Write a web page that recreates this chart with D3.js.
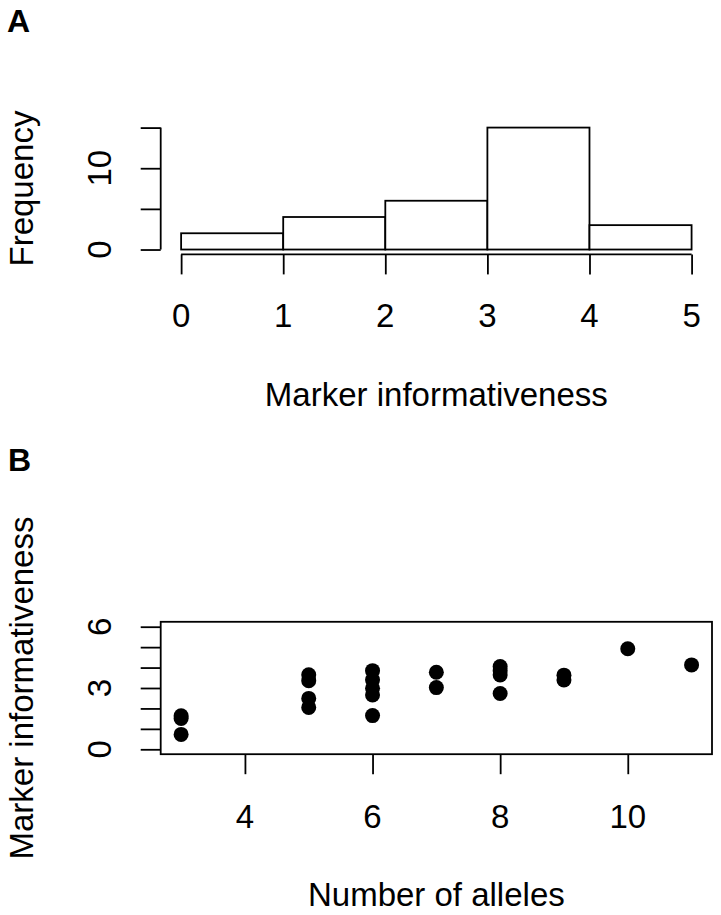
<!DOCTYPE html>
<html>
<head>
<meta charset="utf-8">
<script src="https://cdn.jsdelivr.net/npm/d3@7"></script>
<style>
  html, body { margin: 0; padding: 0; background: #fff; }
  svg text { font-family: "Liberation Sans", Arial, Helvetica, sans-serif; fill: #000; }
</style>
</head>
<body>
<svg id="chart" width="721" height="915"></svg>
<script>
// ---------- Data ----------
// Panel A: histogram of marker informativeness
const binEdges = [0, 1, 2, 3, 4, 5];
const binCounts = [2, 4, 6, 15, 3];
const histXTicks = [0, 1, 2, 3, 4, 5];
const histYTicks = [0, 5, 10, 15];
const histYLabels = [0, 10];

// Panel B: number of alleles vs marker informativeness
const alleles = [3, 3, 3, 5, 5, 5, 5, 6, 6, 6, 6, 6, 7, 7, 8, 8, 8, 8, 9, 9, 10, 11];
const informativeness = [0.73, 1.51, 1.64, 3.65, 3.36, 2.49, 2.05, 3.85, 3.40, 2.99, 2.66, 1.65,
                         3.77, 3.02, 4.05, 3.85, 3.64, 2.73, 3.63, 3.39, 4.92, 4.13];
const scatXTicks = [4, 6, 8, 10];
const scatYTicks = [0, 1, 2, 3, 4, 5, 6];
const scatYLabels = [0, 3, 6];

// ---------- Layout ----------
const svg = d3.select("#chart");
const left = 160.7, right = 712;
const FS = 33, SW = 1.8, TICK = 20;

function ext(lo, hi) { const d = (hi - lo) * 0.04; return [lo - d, hi + d]; }

// ---- Panel A ----
const A = { top: 122.7, bottom: 254.4 };
const xA = d3.scaleLinear().domain(ext(0, 5)).range([left, right]);
const yA = d3.scaleLinear().domain(ext(0, 15)).range([A.bottom, A.top]);
const gA = svg.append("g");

const bars = binCounts.map((c, i) => ({ x0: binEdges[i], x1: binEdges[i + 1], n: c }));
gA.selectAll("rect.bar").data(bars).enter().append("rect")
  .attr("class", "bar")
  .attr("x", d => xA(d.x0)).attr("width", d => xA(d.x1) - xA(d.x0))
  .attr("y", d => yA(d.n)).attr("height", d => yA(0) - yA(d.n))
  .attr("fill", "#fff").attr("stroke", "#000").attr("stroke-width", SW);

// x axis (bottom)
const xAxisA = d3.axisBottom(xA).tickValues(histXTicks).tickSize(TICK).tickPadding(0).tickFormat("");
const gxA = gA.append("g").attr("transform", `translate(0,${A.bottom})`).call(xAxisA);
gxA.select(".domain").attr("d", `M${xA(0)},0H${xA(5)}`).attr("stroke-width", SW);
gxA.selectAll(".tick line").attr("stroke-width", SW);
gA.selectAll("text.xl").data(histXTicks).enter().append("text")
  .attr("class", "xl").attr("x", d => xA(d)).attr("y", A.bottom + 73)
  .attr("text-anchor", "middle").attr("font-size", FS).text(d => d);

// y axis (left)
const yAxisA = d3.axisLeft(yA).tickValues(histYTicks).tickSize(TICK).tickFormat("");
const gyA = gA.append("g").attr("transform", `translate(${left},0)`).call(yAxisA);
gyA.select(".domain").attr("d", `M0,${yA(0)}V${yA(15)}`).attr("stroke-width", SW);
gyA.selectAll(".tick line").attr("stroke-width", SW);
gA.selectAll("text.yl").data(histYLabels).enter().append("text")
  .attr("class", "yl")
  .attr("transform", d => `translate(${left - 50},${yA(d)}) rotate(-90)`)
  .attr("text-anchor", "middle").attr("font-size", FS).text(d => d);

gA.append("text").attr("x", (left + right) / 2).attr("y", A.bottom + 151.5)
  .attr("text-anchor", "middle").attr("font-size", FS).text("Marker informativeness");
gA.append("text")
  .attr("transform", `translate(33,${(A.top + A.bottom) / 2}) rotate(-90)`)
  .attr("text-anchor", "middle").attr("font-size", FS).text("Frequency");
gA.append("text").attr("x", 7).attr("y", 32).attr("font-size", 32).attr("font-weight", "bold").text("A");

// ---- Panel B ----
const B = { top: 621.8, bottom: 754.2 };
const xB = d3.scaleLinear().domain(ext(3, 11)).range([left, right]);
const yB = d3.scaleLinear().domain(ext(0, 6)).range([B.bottom, B.top]);
const gB = svg.append("g");

gB.append("rect").attr("x", left).attr("y", B.top)
  .attr("width", right - left).attr("height", B.bottom - B.top)
  .attr("fill", "none").attr("stroke", "#000").attr("stroke-width", SW);

gB.selectAll("circle").data(alleles.map((a, i) => ({ a, v: informativeness[i] })))
  .enter().append("circle")
  .attr("cx", d => xB(d.a)).attr("cy", d => yB(d.v)).attr("r", 7.5).attr("fill", "#000");

const xAxisB = d3.axisBottom(xB).tickValues(scatXTicks).tickSize(TICK).tickFormat("");
const gxB = gB.append("g").attr("transform", `translate(0,${B.bottom})`).call(xAxisB);
gxB.select(".domain").remove();
gxB.selectAll(".tick line").attr("stroke-width", SW);
gB.selectAll("text.xl").data(scatXTicks).enter().append("text")
  .attr("class", "xl").attr("x", d => xB(d)).attr("y", B.bottom + 73.3)
  .attr("text-anchor", "middle").attr("font-size", FS).text(d => d);

const yAxisB = d3.axisLeft(yB).tickValues(scatYTicks).tickSize(TICK).tickFormat("");
const gyB = gB.append("g").attr("transform", `translate(${left},0)`).call(yAxisB);
gyB.select(".domain").remove();
gyB.selectAll(".tick line").attr("stroke-width", SW);
gB.selectAll("text.yl").data(scatYLabels).enter().append("text")
  .attr("class", "yl")
  .attr("transform", d => `translate(${left - 50},${yB(d)}) rotate(-90)`)
  .attr("text-anchor", "middle").attr("font-size", FS).text(d => d);

gB.append("text").attr("x", (left + right) / 2).attr("y", B.bottom + 151.7)
  .attr("text-anchor", "middle").attr("font-size", FS).text("Number of alleles");
gB.append("text")
  .attr("transform", `translate(33,${(B.top + B.bottom) / 2}) rotate(-90)`)
  .attr("text-anchor", "middle").attr("font-size", FS).text("Marker informativeness");
gB.append("text").attr("x", 8).attr("y", 471).attr("font-size", 32).attr("font-weight", "bold").text("B");
</script>
</body>
</html>
